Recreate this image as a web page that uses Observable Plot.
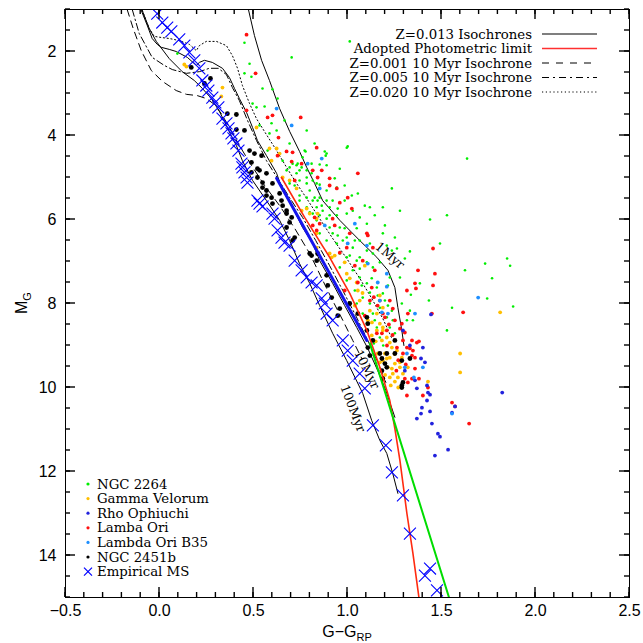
<!DOCTYPE html>
<html><head><meta charset="utf-8">
<script src="https://cdn.jsdelivr.net/npm/d3@7"></script>
<script src="https://cdn.jsdelivr.net/npm/@observablehq/plot@0.6"></script>
<style>body{margin:0;background:#fff} svg{display:block}</style>
</head><body><div id="chart"></div>
<script>
// ---------- axis domains & tick values ----------
const xDomain = [-0.5, 2.5];
const yDomain = [15, 1];
const xMajorTicks = [-0.5, 0, 0.5, 1, 1.5, 2, 2.5];
const xMinorTicks = d3.range(-5, 26).map(d => d / 10);
const yMajorTicks = [2, 4, 6, 8, 10, 12, 14];
const yMinorTicks = d3.range(2, 31).map(d => d / 2);

// ---------- cluster members [G-G_RP, M_G] ----------
const ngc2264 = [[0.095,2.05],[0.452,1.79],[0.479,2.29],[0.452,2.52],[0.489,2.60],[0.703,2.14],[1.012,1.76],[0.548,2.88],[0.601,2.90],[0.516,3.33],[0.559,3.31],[0.628,3.12],[0.596,3.71],[0.623,3.88],[0.532,3.76],[0.665,3.64],[0.783,3.88],[0.825,4.19],[0.772,4.36],[0.708,4.67],[0.692,4.76],[0.729,4.90],[0.756,4.76],[0.783,4.83],[0.809,4.90],[0.745,5.07],[0.783,5.14],[0.836,5.14],[0.799,5.31],[0.825,5.48],[0.841,5.55],[0.745,5.55],[0.783,5.71],[0.815,5.86],[0.836,6.02],[0.692,5.14],[0.719,5.19],[0.879,4.38],[0.884,4.48],[0.777,4.38],[1.001,4.26],[0.735,4.67],[0.852,4.69],[0.959,4.79],
[1.636,4.55],[1.236,5.26],[1.279,5.79],[1.119,5.71],[1.188,5.71],[1.065,5.95],[1.439,6.00],[1.529,5.90],[1.252,6.43],[1.492,6.57],[1.305,6.93],[1.625,7.21],[1.732,7.05],[1.743,7.88],[1.849,6.93],[1.865,7.10],[1.881,8.07],[1.556,8.10],[1.529,8.64],[1.279,7.38],[1.225,7.38],[1.215,7.57],[1.332,8.17],[1.348,8.40],[1.188,6.33],[1.332,6.76],[1.769,7.40],[1.385,7.52],[1.337,7.79],[1.433,7.93],[1.289,8.00],[1.263,6.69],[1.209,6.62],
[0.495,3.24],[0.585,3.95],[0.575,4.36],[0.692,4.19],[0.836,4.29],[0.889,4.43],[0.761,4.52],[0.809,4.67],[0.655,4.60],[0.729,4.71],[0.676,4.83],[0.783,5.00],[0.815,5.07],[0.852,5.17],[0.889,5.31],[0.996,4.29],[1.055,5.38],[0.943,5.24],[0.783,5.48],[0.815,5.55],[0.852,5.48],[0.889,5.55],[0.921,5.55],[0.836,5.71],[0.868,5.79],[0.905,5.71],[0.948,5.74],[0.985,5.55],[0.852,5.90],[0.889,5.98],[0.943,5.90],[0.996,5.86],[1.028,5.79],[0.905,6.19],[0.959,6.19],[1.049,6.21],[1.103,6.10],[0.852,6.33],[0.921,6.33],[0.996,6.43],[1.065,6.50],[1.119,6.57],[0.943,6.57],[1.028,6.67],[1.103,6.74],[0.959,6.81],[1.065,6.90],[1.135,6.81],
[0.889,6.50],[0.975,6.50],[0.996,6.90],[1.049,6.98],[0.959,7.14],[1.028,7.21],[1.065,7.38],[1.135,7.14],[0.996,7.45],[1.103,7.52],[1.156,7.62],[1.039,7.69],[1.081,7.86],[1.188,7.76],[1.049,8.00],[1.119,8.00],[1.172,8.10],[1.081,8.24],[1.135,8.24],[1.209,8.33],[1.103,8.48],[1.156,8.57],[1.225,8.57],[1.172,8.81],[1.241,8.40],[1.199,7.93],[1.316,8.40],[1.19,9.00],[1.14,8.95],
[0.745,4.83],[0.889,4.71],[0.932,5.02],[0.985,5.19],[1.023,5.43],[1.092,5.67],[1.145,5.90],[1.199,6.14],[1.236,6.74],[1.172,7.02],[1.103,7.02],[1.039,6.50],[0.985,6.21],[0.863,5.67],[0.905,5.90],[0.799,5.83],[0.745,5.43],[0.948,6.38],[1.012,6.86],[1.065,7.17],[1.129,7.40],[1.161,7.81],[1.119,7.74],[1.076,7.57],[1.215,8.05],[1.145,8.40],[1.236,8.17],[1.252,8.71],[1.129,8.88]];

const gammaVelorum = [[0.132,2.31],[0.143,2.36],[0.335,2.86],[0.329,3.07],[0.516,3.81],[0.585,4.31],[0.623,4.31],[0.639,4.43],[0.756,5.79],[0.783,5.74],[0.841,5.86],[0.836,6.33],[0.655,5.00],[0.692,5.07],[0.596,4.60],[0.729,5.26],[0.836,5.98],[0.799,5.86],[0.905,6.81],[0.932,6.86],[0.836,6.67],[0.916,6.90],[0.996,7.29],[1.012,7.40],[1.049,7.50],[1.055,7.69],[1.065,7.93],[1.119,8.17],[1.156,8.24],[1.108,8.40],[1.172,8.48],[1.188,8.64],[1.156,8.64],[1.183,8.88],[1.209,8.81],[1.236,9.05],[1.199,9.19],[1.225,9.29],[1.252,9.43],[1.279,9.52],[1.215,9.52],[1.241,9.67],[1.268,9.76],[1.295,9.67],[1.321,9.52],[1.289,9.29],[1.263,9.12],[1.188,9.36],[1.161,9.19],[1.172,7.81],[1.188,8.10],[1.225,8.93],[1.279,9.40],[1.236,9.55],[1.225,9.76],[1.599,9.19],[1.599,9.64],[1.812,8.21],[1.428,9.86],[1.188,8.57],[1.172,9.40],[1.209,9.31],[1.252,9.86],[1.092,7.10],[0.985,7.02],[1.039,8.05],[1.129,8.76],
[1.23,9.95],[1.27,10.0],[1.20,9.7],[1.25,9.2],[1.15,8.9],[1.13,8.45],[1.08,7.75]];

const rhoOphiuchi = [[1.401,9.05],[1.412,9.40],[1.359,9.83],[1.369,10.02],[1.428,10.12],[1.423,10.31],[1.396,10.48],[1.439,10.57],[1.369,10.74],[1.391,10.62],[1.449,10.86],[1.481,11.10],[1.492,11.17],[1.535,11.48],[1.465,11.62],[1.305,9.60],[1.391,9.31],[1.423,9.95],[1.439,10.17],[1.572,10.45],[1.823,10.12],[1.556,10.60],[1.444,8.26],[1.332,9.00],[1.295,8.64]];

const lambdaOri = [[0.463,1.60],[0.511,2.52],[0.463,3.40],[0.575,3.57],[0.601,3.52],[0.751,3.57],[0.633,4.05],[0.676,4.38],[0.628,4.48],[0.703,4.62],[0.756,4.67],[0.708,4.40],[0.836,4.29],[0.815,4.83],[0.841,5.00],[0.719,5.07],[0.905,5.19],[1.055,4.90],[0.943,5.26],[1.001,5.48],[0.959,5.60],[1.023,5.74],[0.852,6.10],[0.932,6.14],[1.012,6.33],[1.103,6.33],[1.135,6.67],[0.996,6.67],[0.863,4.83],[0.905,5.02],[0.921,5.98],[1.108,6.38],[0.959,6.79],[1.081,6.98],[1.455,6.69],[1.465,7.29],[1.375,7.21],[1.359,7.52],[1.455,7.57],[1.316,7.69],[1.449,8.24],[1.615,8.21],[1.055,7.50],[1.129,7.62],[1.119,7.93],[1.172,7.93],[1.188,8.24],[1.156,8.71],[1.209,8.64],[1.295,8.88],[1.263,9.05],[1.295,9.19],[1.343,8.88],[1.369,8.93],[1.332,9.07],[1.359,9.29],[1.305,9.79],[1.343,9.79],[1.316,10.19],[1.401,10.19],[1.556,10.36],[1.364,7.64],[1.321,8.24],[1.241,8.12],[1.289,8.48],[1.279,8.60],[1.305,8.69],[1.380,8.90],[1.348,9.12],[1.343,9.24],[1.316,9.05],[1.359,9.55],[1.380,9.79],[1.321,9.88],[1.428,10.00],[1.199,8.33],[1.183,8.71],[1.647,10.86],[1.572,10.45],[0.825,5.95],[0.815,6.14],[0.836,6.26],[1.039,7.10],[0.985,7.69],[1.092,8.29],[1.225,7.93],[1.252,8.40],[1.145,7.21],
[1.16,8.05],[1.24,8.75],[1.27,9.35],[1.21,9.0],[1.31,9.45],[1.26,9.6],[1.14,7.85],[1.22,8.5]];

const lambdaOriB35 = [[0.623,3.36],[0.703,3.76],[0.788,4.67],[0.863,4.55],[0.852,5.26],[0.879,6.14],[1.001,6.57],[1.039,6.10],[1.103,6.62],[1.108,7.05],[1.209,7.29],[1.161,7.50],[1.172,7.93],[1.183,8.21],[1.215,8.24],[1.316,9.19],[1.359,8.24],[1.305,9.52],[1.695,7.86],[1.556,10.62],[1.209,7.60],[1.401,9.52],[1.353,9.76]];

const ngc2451b = [[0.169,2.38],[0.271,2.64],[0.239,2.76],[0.361,3.48],[0.409,3.50],[0.409,3.86],[0.452,3.88],[0.479,4.36],[0.505,4.43],[0.543,4.48],[0.489,4.64],[0.521,4.79],[0.532,4.83],[0.489,4.88],[0.569,4.90],[0.521,5.00],[0.548,5.12],[0.601,5.14],[0.548,5.24],[0.569,5.31],[0.639,5.38],[0.569,5.43],[0.596,5.48],[0.649,5.55],[0.601,5.62],[0.655,5.67],[0.676,5.79],[0.676,5.86],[0.703,5.95],[0.692,6.07],[0.676,6.19],[0.719,6.43],[0.708,6.50],[0.799,6.81],[0.809,6.86],[0.836,6.98],[0.841,6.81],[0.889,7.33],[0.895,7.57],[0.916,7.86],[0.948,8.29],[0.959,8.12],[1.012,8.00],[1.055,8.24],[1.103,8.33],[1.108,8.48],[1.103,8.64],[1.135,8.88],[1.108,9.05],[1.119,9.24],[1.172,9.19],[1.209,9.19],[1.252,9.19],[1.252,8.88],[1.183,9.31],[1.199,9.43],[1.209,9.52],[1.183,9.60],[1.188,9.79],[1.332,9.31],[1.289,9.36],[1.289,9.95],[1.295,9.88],[1.289,10.00]];

const empiricalMS = [[-0.012,1.10],[0.015,1.31],[0.041,1.43],[0.063,1.52],[0.105,1.71],[0.132,1.86],[0.159,2.02],[0.185,2.21],[0.212,2.40],[0.228,2.69],[0.249,2.81],[0.260,2.93],[0.281,3.10],[0.297,3.21],[0.313,3.33],[0.335,3.60],[0.356,3.71],[0.367,3.83],[0.383,3.95],[0.393,4.07],[0.409,4.19],[0.420,4.36],[0.436,4.67],[0.441,4.76],[0.452,4.88],[0.463,5.00],[0.468,5.12],[0.521,5.55],[0.532,5.62],[0.548,5.69],[0.601,5.86],[0.612,5.98],[0.628,6.26],[0.649,6.43],[0.665,6.55],[0.692,6.62],[0.719,6.98],[0.756,7.21],[0.783,7.38],[0.809,7.50],[0.836,7.57],[0.863,7.88],[0.879,8.00],[0.889,8.24],[0.921,8.40],[0.975,8.88],[1.001,9.12],[1.028,9.36],[1.065,9.67],[1.092,10.02],[1.135,10.90],[1.204,11.38],[1.236,12.02],[1.295,12.57],[1.332,13.48],[1.412,14.48],[1.439,14.31],[1.476,14.83]];

// ---------- isochrones & limits ----------
const iso1Myr = [[0.473,1.00],[0.505,1.62],[0.543,2.21],[0.585,2.69],[0.639,3.36],[0.692,3.90],[0.745,4.38],[0.783,4.76],[0.825,5.14],[0.868,5.55],[0.959,6.02],[1.065,6.50],[1.156,6.90],[1.215,7.21],[1.252,7.62],[1.268,8.10],[1.289,8.64],[1.300,9.00]];
const iso10Myr = [[-0.097,1.02],[-0.065,1.38],[-0.039,1.69],[-0.012,1.83],[0.009,1.90],[0.052,1.95],[0.089,2.00],[0.148,2.14],[0.196,2.33],[0.212,2.26],[0.239,2.21],[0.281,2.26],[0.335,2.40],[0.372,2.62],[0.399,2.88],[0.425,3.12],[0.463,3.45],[0.495,3.81],[0.521,4.12],[0.569,4.48],[0.623,4.90],[0.655,5.31],[0.708,5.71],[0.761,6.19],[0.815,6.57],[0.852,6.98],[0.921,7.52],[0.985,8.05],[1.049,8.57],[1.108,9.07],[1.161,9.60],[1.204,10.07],[1.231,10.43],[1.252,10.71]];
const iso100Myr = [[-0.092,1.02],[-0.055,1.45],[-0.017,1.76],[0.052,2.17],[0.121,2.48],[0.185,2.69],[0.228,2.88],[0.276,3.12],[0.319,3.43],[0.356,3.76],[0.383,4.02],[0.409,4.24],[0.441,4.60],[0.495,5.07],[0.569,5.55],[0.639,6.02],[0.692,6.50],[0.745,7.05],[0.799,7.52],[0.852,8.05],[0.921,8.71],[0.996,9.36],[1.081,10.14],[1.129,10.79],[1.172,11.26],[1.209,11.57],[1.241,12.05],[1.268,12.52]];
const isoZ001 = [[-0.172,1.00],[-0.140,1.45],[-0.097,1.98],[-0.044,2.45],[0.015,2.71],[0.089,2.93],[0.143,3.02],[0.201,3.05],[0.249,3.12],[0.292,3.26],[0.329,3.48],[0.372,3.81],[0.425,4.24],[0.489,4.71],[0.559,5.19],[0.639,5.67],[0.719,6.21],[0.799,6.81],[0.863,7.40],[0.921,7.93],[0.975,8.40],[1.028,8.88],[1.076,9.31]];
const isoZ005 = [[-0.145,1.00],[-0.108,1.57],[-0.039,2.14],[0.025,2.33],[0.068,2.43],[0.143,2.52],[0.212,2.48],[0.265,2.40],[0.313,2.40],[0.356,2.55],[0.388,2.86],[0.425,3.17],[0.468,3.64],[0.516,4.12],[0.569,4.60],[0.628,5.02],[0.692,5.48],[0.761,5.95],[0.831,6.50],[0.905,7.10],[0.975,7.69],[1.044,8.29],[1.108,8.88],[1.161,9.40],[1.204,9.88]];
const isoZ020 = [[-0.092,1.02],[-0.055,1.45],[-0.028,1.64],[0.015,1.67],[0.052,1.69],[0.105,1.74],[0.159,1.83],[0.196,1.98],[0.212,1.86],[0.249,1.76],[0.303,1.76],[0.356,1.86],[0.388,2.10],[0.415,2.40],[0.441,2.81],[0.479,3.24],[0.516,3.60],[0.569,3.98],[0.623,4.36],[0.676,4.76],[0.729,5.14],[0.783,5.50],[0.852,5.98],[0.921,6.45],[0.996,6.93],[1.065,7.40],[1.129,7.88],[1.188,8.36],[1.236,8.83]];
const photLimit = [[0.649,5.00],[0.772,5.95],[0.905,6.90],[1.012,7.76],[1.103,8.64],[1.172,9.52],[1.225,10.31],[1.252,10.98],[1.279,11.74],[1.316,13.00],[1.348,13.95],[1.380,15.00]];
const greenLimit = [[1.119,8.95],[1.540,15.00]];
const blueLimit = [[0.623,5.02],[1.103,8.88]];

// ---------- annotations & legend text ----------
const ageLabels = [{x:1.225,y:6.86,t:"1Myr",a:40},{x:1.103,y:9.57,t:"10Myr",a:64},{x:1.028,y:10.50,t:"100Myr",a:69}];
const lineLegendLabels = ["Z=0.013 Isochrones","Adopted Photometric limit","Z=0.001 10 Myr Isochrone","Z=0.005 10 Myr Isochrone","Z=0.020 10 Myr Isochrone"];
const pointLegendLabels = ["NGC 2264","Gamma Velorum","Rho Ophiuchi","Lamba Ori","Lambda Ori B35","NGC 2451b","Empirical MS"];

const C = {green:"#00ee00", orange:"#ffbf00", rho:"#2222dd", red:"#ff1010", lblue:"#1e8fff", black:"#000", ms:"#0000ff"};
const X = d => d[0], Y = d => d[1];
const iso = (data, dash) => Plot.line(data, {x:X, y:Y, stroke:"black", strokeWidth:1, strokeDasharray:dash, clip:true});
const pts = (data, fill, r) => Plot.dot(data, {x:X, y:Y, fill, r, stroke:null, clip:true});

const chart = Plot.plot({
  width: 643, height: 643,
  marginLeft: 65, marginRight: 14, marginTop: 9, marginBottom: 46,
  x: {domain: xDomain, label: null},
  y: {domain: yDomain, label: null},
  style: {fontFamily: "Liberation Sans", fontSize: "16px", background: "white"},
  marks: [
    iso(iso1Myr), iso(iso10Myr), iso(iso100Myr),
    iso(isoZ001, "7,5"), iso(isoZ005, "7,3,1.5,3"), iso(isoZ020, "1.2,2.6"),
    pts(ngc2264, C.green, 1.3),
    pts(gammaVelorum, C.orange, 1.9),
    pts(lambdaOri, C.red, 1.9),
    pts(rhoOphiuchi, C.rho, 1.9),
    pts(lambdaOriB35, C.lblue, 1.9),
    pts(ngc2451b, C.black, 2.4),
    Plot.line(photLimit, {x:X, y:Y, stroke:"#ff2a10", strokeWidth:1.6, clip:true}),
    Plot.line(greenLimit, {x:X, y:Y, stroke:"#00dd00", strokeWidth:2, clip:true}),
    Plot.line(blueLimit, {x:X, y:Y, stroke:"#1515ee", strokeWidth:3, clip:true}),
    Plot.dot(empiricalMS, {x:X, y:Y, symbol:"times", r:5.5, stroke:C.ms, strokeWidth:1.1, clip:true}),
    Plot.text(ageLabels, {x:"x", y:"y", text:"t", rotate:"a", fontFamily:"DejaVu Serif", fontSize:12.5, fill:"black"}),
    Plot.frame({stroke:"black"}),
    Plot.axisX(xMajorTicks, {anchor:"bottom", tickSize:0, tickPadding:7, tickFormat:d3.format(".1f"), label:null, fill:"black"}),
    Plot.axisY(yMajorTicks, {anchor:"left", tickSize:0, tickPadding:9, tickFormat:d3.format("d"), label:null, fill:"black"})
  ]
});
document.getElementById("chart").appendChild(chart);
const svg = d3.select(chart);

// ---------- axis titles & legends ----------
const xt = svg.append("text").attr("x", 347).attr("y", 637).attr("text-anchor", "middle")
  .attr("font-family", "Liberation Sans").attr("font-size", 16).attr("fill", "black");
xt.append("tspan").text("G\u2212G");
xt.append("tspan").attr("font-size", 11).attr("dy", 4).text("RP");
const yt = svg.append("text").attr("transform", "translate(27,303) rotate(-90)").attr("text-anchor", "middle")
  .attr("font-family", "Liberation Sans").attr("font-size", 16).attr("fill", "black");
yt.append("tspan").text("M");
yt.append("tspan").attr("font-size", 11).attr("dy", 4).text("G");

const lineStyles = [
  {stroke:"black", dash:null, w:1.2},
  {stroke:"#ff3030", dash:null, w:1.6},
  {stroke:"black", dash:"7,7", w:1.2},
  {stroke:"black", dash:"7,4,2,4", w:1.2},
  {stroke:"black", dash:"1.2,2.6", w:1.2}
];
const lg = svg.append("g").attr("font-family", "DejaVu Serif").attr("font-size", 13.3).attr("fill", "black");
lineLegendLabels.forEach((lab, i) => {
  const y = 34 + i * 14.5;
  lg.append("text").attr("x", 532).attr("y", y + 4.5).attr("text-anchor", "end").text(lab);
  const s = lineStyles[i];
  lg.append("line").attr("x1", 542).attr("x2", 597).attr("y1", y).attr("y2", y)
    .attr("stroke", s.stroke).attr("stroke-width", s.w).attr("stroke-dasharray", s.dash);
});
const ptColors = [C.green, C.orange, C.rho, C.red, C.lblue, C.black];
const lg2 = svg.append("g").attr("font-family", "DejaVu Serif").attr("font-size", 13.3).attr("fill", "black");
pointLegendLabels.forEach((lab, i) => {
  const y = 484 + i * 14.6;
  lg2.append("text").attr("x", 97).attr("y", y + 4.5).attr("text-anchor", "start").text(lab);
  if (i < 6) {
    lg2.append("circle").attr("cx", 88).attr("cy", y).attr("r", 1.6).attr("fill", ptColors[i]);
  } else {
    lg2.append("path").attr("d", `M${84},${y-4}L${92},${y+4}M${84},${y+4}L${92},${y-4}`)
      .attr("stroke", C.ms).attr("stroke-width", 1.2);
  }
});

// ---------- inward tick marks, placed through the plot's own scales, drawn last ----------
const sx = chart.scale("x"), sy = chart.scale("y");
const px = v => sx.apply(v), py = v => sy.apply(v);
const xL = px(xDomain[0]), xR = px(xDomain[1]);
const yB = py(yDomain[0]), yT = py(yDomain[1]);
const tg = svg.append("g");
const seg = (x1, y1, x2, y2) => tg.append("line")
  .attr("x1", x1).attr("y1", y1).attr("x2", x2).attr("y2", y2)
  .attr("stroke", "#000").attr("stroke-width", 1.4);
const addX = (t, len) => t.forEach(v => { const x = px(v); seg(x, yB, x, yB - len); seg(x, yT, x, yT + len); });
const addY = (t, len) => t.forEach(v => { const y = py(v); seg(xL, y, xL + len, y); seg(xR, y, xR - len, y); });
addX(xMajorTicks, 10); addX(xMinorTicks, 5);
addY(yMajorTicks, 10); addY(yMinorTicks, 5);
</script></body></html>
